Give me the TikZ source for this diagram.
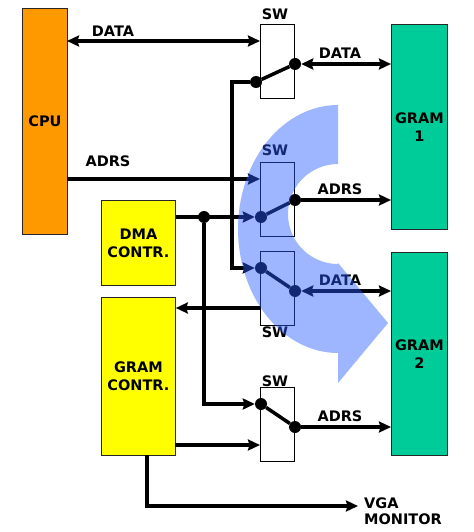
\documentclass[tikz,border=0pt]{standalone}
\usepackage{fontspec}
\setmainfont{DejaVu Sans}
\usetikzlibrary{arrows.meta}
\definecolor{cpuorange}{RGB}{255,153,0}
\definecolor{dmayellow}{RGB}{255,255,0}
\definecolor{gramgreen}{RGB}{0,204,153}
\definecolor{flowblue}{RGB}{40,90,255}
\begin{document}
\begin{tikzpicture}[x=1bp,y=-1bp,
  >={Stealth[length=12bp,width=11bp,inset=1.5bp]},
  lbl/.style={font=\fontsize{14.5bp}{17bp}\selectfont\bfseries, inner sep=0pt, align=center},
  blk/.style={draw=black!85, line width=0.8bp, anchor=north west, inner sep=0pt, align=center,
    font=\fontsize{14.5bp}{18bp}\selectfont\bfseries},
  swbox/.style={draw=black, line width=0.8bp, anchor=north west, minimum width=34bp, minimum height=74bp, inner sep=0pt},
  wire/.style={line width=3.5bp},
  dot/.style={circle, fill=black, minimum size=12bp, inner sep=0pt},
]
\useasboundingbox (0,0) rectangle (474,532);
% blocks
\node[blk, fill=cpuorange, minimum width=45bp, minimum height=226bp] (cpu) at (22,8) {CPU};
\node[blk, fill=dmayellow, minimum width=74bp, minimum height=85bp] (dma) at (101,200) {DMA\\CONTR.};
\node[blk, fill=dmayellow, minimum width=74bp, minimum height=158bp] (gc) at (101,297) {GRAM\\CONTR.};
\node[blk, fill=gramgreen, minimum width=56bp, minimum height=205bp] (g1) at (391,24) {GRAM\\1};
\node[blk, fill=gramgreen, minimum width=56bp, minimum height=203bp] (g2) at (391,252) {GRAM\\2};
% switches
\node[swbox] (sw1) at (260,24) {};
\node[swbox] (sw2) at (260,162) {};
\node[swbox] (sw3) at (260,251) {};
\node[swbox] (sw4) at (260,387) {};
\node[lbl] (sw1t) at (275,14) {SW};
\node[lbl] (sw2t) at (275,150) {SW};
\node[lbl] (sw3t) at (275,332) {SW};
\node[lbl] (sw4t) at (275,381) {SW};
% switch contacts
\node[dot] (s1l) at (256,82) {};
\node[dot] (s1r) at (295,64) {};
\node[dot] (s2l) at (261,217) {};
\node[dot] (s2r) at (295,200) {};
\node[dot] (s3l) at (261,268) {};
\node[dot] (s3r) at (295,291) {};
\node[dot] (s4l) at (261,404) {};
\node[dot] (s4r) at (295,427) {};
\node[dot] (dj) at (204,217) {};
% helper coordinates
\coordinate (cd) at (67,41);
\coordinate (ca) at (67,179);
\coordinate (bus) at (232,82);
\coordinate (fb) at (260,308);
\coordinate (gca) at (175,445);
\coordinate (vgs) at (147,455);
\coordinate (vge) at (358,506);
% wires
\draw[wire,<->] (cd) -- (cd -| sw1.west);
\draw[wire,->] (ca) -- (ca -| sw2.west);
\draw[wire] (s1l) -- (s1r);
\draw[wire] (s2l) -- (s2r);
\draw[wire] (s3l) -- (s3r);
\draw[wire] (s4l) -- (s4r);
\draw[wire,<->] (s1r) -- (s1r -| g1.west);
\draw[wire,->] (s2r) -- (s2r -| g1.west);
\draw[wire,<->] (s3r) -- (s3r -| g2.west);
\draw[wire,->] (s4r) -- (s4r -| g2.west);
\draw[wire,->] (s1l) -- (bus) |- (s3l);
\draw[wire,->] (dj -| dma.east) -- (s2l);
\draw[wire,->] (dj) |- (s4l);
\draw[wire,->] (fb) -- (fb -| gc.east);
\draw[wire,->] (gca) -- (gca -| sw4.west);
\draw[wire,->] (vgs) |- (vge);
% labels
\node[lbl] (l1) at (113,31) {DATA};
\node[lbl] (l2) at (108,161) {ADRS};
\node[lbl] (l3) at (340,53) {DATA};
\node[lbl] (l4) at (340,189) {ADRS};
\node[lbl] (l5) at (340,280) {DATA};
\node[lbl] (l6) at (340,416) {ADRS};
\node[lbl, anchor=north west, align=left, font=\fontsize{14.5bp}{16bp}\selectfont\bfseries] (vga) at (364,498) {VGA\\MONITOR};
% flow arrow
\fill[flowblue, opacity=0.45]
  (338,104) -- plot[domain=-90:90, samples=60] ({338-100*cos(\x)}, {229+124*sin(\x)})
  -- (338,383) -- (388,323) -- (338,263)
  -- plot[domain=-90:90, samples=40] ({338-50*cos(\x)}, {214-50*sin(\x)}) -- cycle;
\end{tikzpicture}
\end{document}
